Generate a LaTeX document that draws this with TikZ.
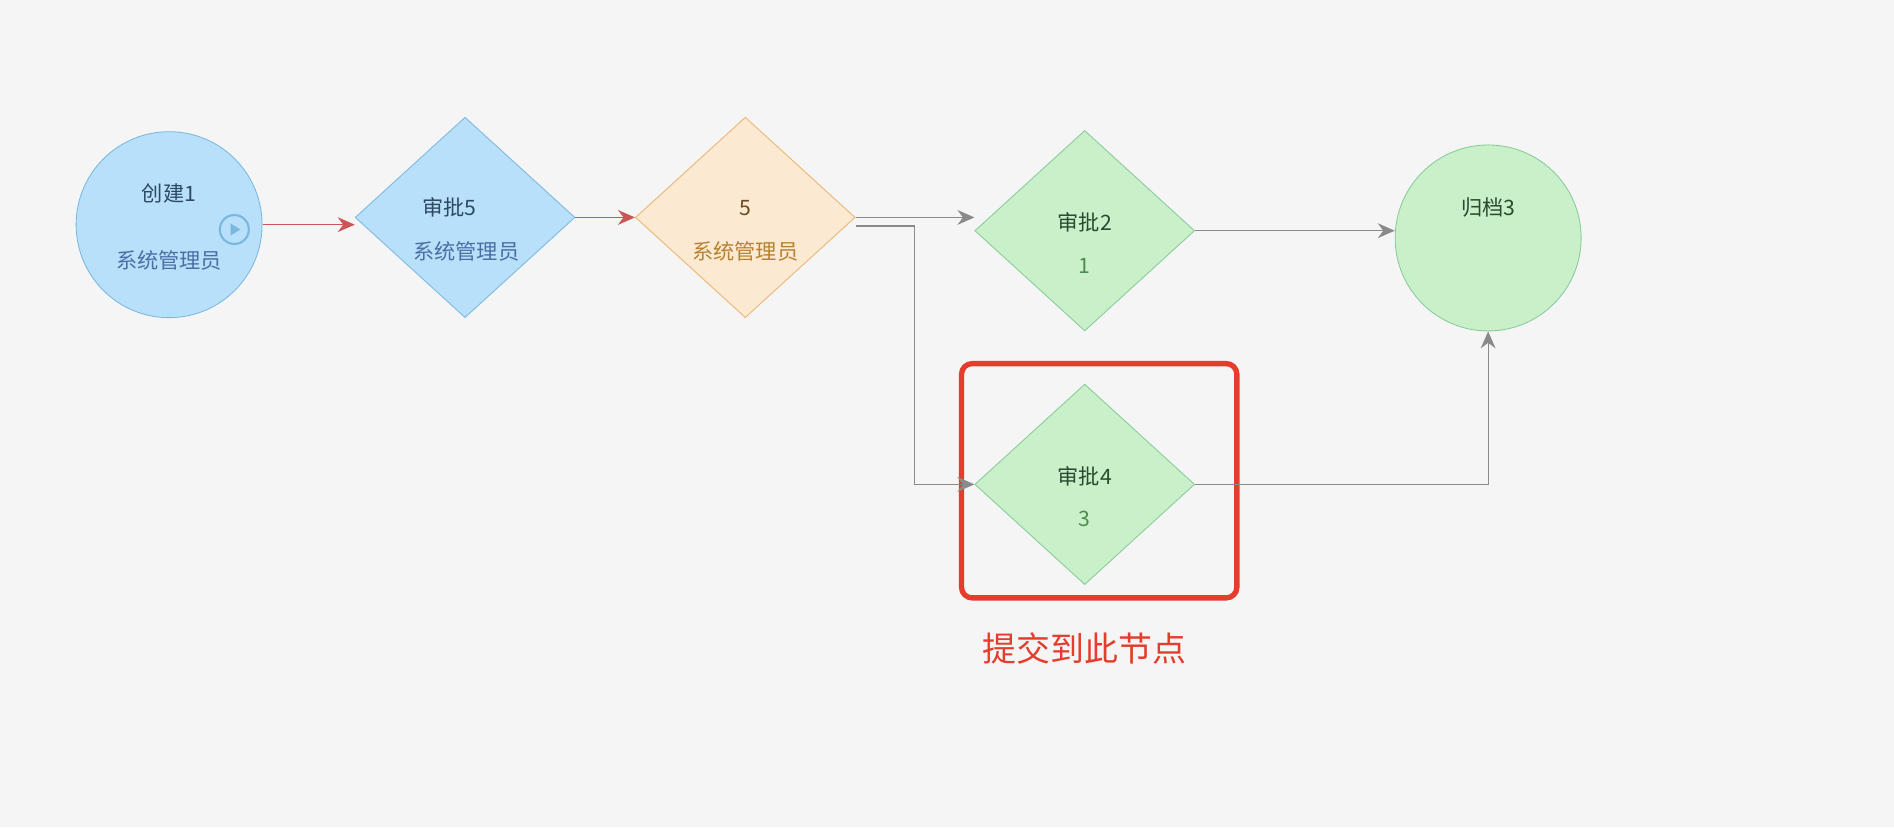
\documentclass[tikz,border=0pt]{standalone}
\usepackage{fontspec}
\setmainfont{Noto Sans CJK SC}
\usetikzlibrary{arrows.meta,shapes.geometric,positioning}
\definecolor{bg}{HTML}{F5F5F5}
\definecolor{bluefill}{HTML}{B8E0FA}
\definecolor{bluedraw}{HTML}{7AB8E0}
\definecolor{bluetext}{HTML}{2E4A63}
\definecolor{bluesub}{HTML}{4A6FA5}
\definecolor{orfill}{HTML}{FBE9D2}
\definecolor{ordraw}{HTML}{EDB46F}
\definecolor{ortext}{HTML}{6E4A1C}
\definecolor{orsub}{HTML}{B7822F}
\definecolor{grfill}{HTML}{C9F0C9}
\definecolor{grdraw}{HTML}{86CC9A}
\definecolor{grtext}{HTML}{2C4A30}
\definecolor{grsub}{HTML}{4E8C4E}
\definecolor{mark}{HTML}{E43D2D}
\definecolor{redline}{HTML}{CC5555}
\definecolor{grayline}{HTML}{8A8A8A}
\begin{document}
\begin{tikzpicture}[
	x=0.02cm, y=-0.02cm,
	every node/.style={font=\fontsize{10pt}{12pt}\selectfont},
	task/.style={
		diamond,
		inner sep=0pt,
		minimum width=3.64cm,
		minimum height=3.32cm
		},
	state/.style={
		circle,
		inner sep=0pt,
		minimum size=3.08cm
		},
	bluebox/.style={fill=bluefill, draw=bluedraw},
	orbox/.style={fill=orfill, draw=ordraw},
	grbox/.style={fill=grfill, draw=grdraw},
	flow/.style={-{Stealth[length=8pt,width=7pt]}, line width=0.6pt},
	hot/.style={flow, draw=redline},
	cold/.style={flow, draw=grayline}
]
\fill[bg] (0,0) rectangle (1568,685);

% States
\node [state, bluebox] (Create) at (140,186) {};
\node [state, grbox] (Archive) at (1232,197) {};

% Tasks
\node [task, bluebox] (Check5) at (385,180) {};
\node [task, orbox] (Gate) at (617,180) {};
\node [task, grbox] (Check2) at (898,191) {};
\node [task, grbox] (Check4) at (898,401) {};

% Labels
\node [text=bluetext] (Create title) at (140,160) {创建1};
\node [text=bluesub] (Create user) at (140,216) {系统管理员};
\node [circle, draw=bluedraw, line width=1pt, minimum size=0.48cm, inner sep=0pt] (Play) at (194,190) {};
\fill [bluedraw] (191,185) -- (199,190) -- (191,195) -- cycle;
\node [text=bluetext] (Check5 title) at (372,172) {审批5};
\node [text=bluesub] (Check5 user) at (386,208) {系统管理员};
\node [text=ortext] (Gate title) at (617,172) {5};
\node [text=orsub] (Gate user) at (617,208) {系统管理员};
\node [text=grtext] (Check2 title) at (898,184) {审批2};
\node [text=grsub] (Check2 user) at (898,220) {1};
\node [text=grtext] (Archive title) at (1232,172) {归档3};
\node [text=grtext] (Check4 title) at (898,394) {审批4};
\node [text=grsub] (Check4 user) at (898,430) {3};

% Highlight
\node [draw=mark, line width=2.5pt, rounded corners=5pt, minimum width=4.56cm, minimum height=3.88cm] (Focus) at (910,398) {};
\node [text=mark, font=\fontsize{16pt}{18pt}\selectfont] (Focus note) at (898,537) {提交到此节点};

% Flows
\draw [hot] (Create.east) -- (Create.east -| Check5.west);
\draw [hot] (Check5.east) -- (Gate.west);
\draw [cold] (Gate.east) -- (Gate.east -| Check2.west);
\draw [cold] ([yshift=-0.14cm]Gate.east) -| (757,401) -- (Check4.west);
\draw [cold] (Check2.east) -- (Check2.east -| Archive.west);
\draw [cold] (Check4.east) -| (Archive.south);

\end{tikzpicture}
\end{document}
